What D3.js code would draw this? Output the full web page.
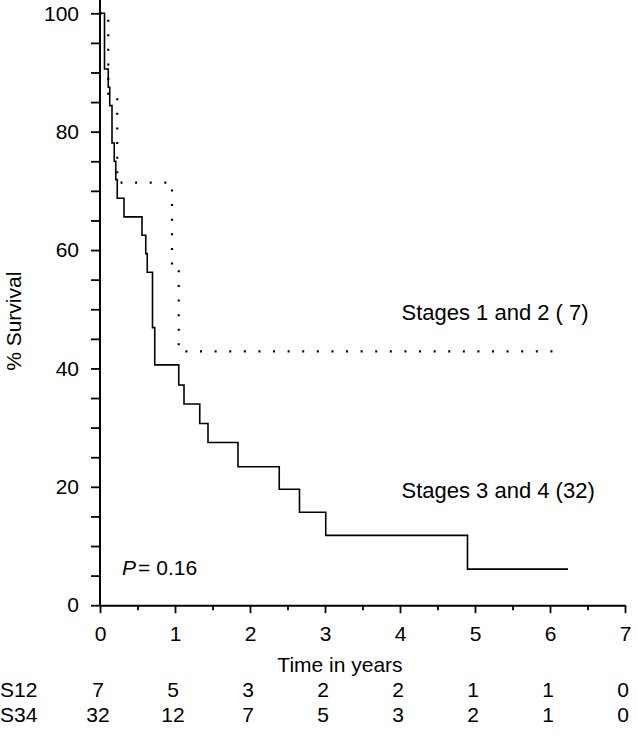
<!DOCTYPE html>
<html>
<head>
<meta charset="utf-8">
<script src="https://cdn.jsdelivr.net/npm/d3@7"></script>
<style>
  html, body { margin: 0; padding: 0; background: #fff; }
  svg { display: block; font-family: "Liberation Sans", Arial, Helvetica, sans-serif; }
</style>
</head>
<body>
<svg id="chart" width="637" height="740"></svg>
<script>
// ---- Data ----
// Stages 3 and 4 (n = 32): step times (years) and survival (%) after each step
const s34Times    = [0, 0.06, 0.11, 0.13, 0.16, 0.19, 0.21, 0.23, 0.32, 0.56, 0.61, 0.63, 0.70, 0.73, 1.05, 1.12, 1.33, 1.44, 1.84, 2.39, 2.66, 3.01, 4.90];
const s34Survival = [100, 90.6, 87.5, 84.4, 78.1, 75.0, 71.9, 68.75, 65.6, 62.5, 59.4, 56.25, 46.9, 40.6, 37.2, 34.0, 30.7, 27.5, 23.4, 19.6, 15.7, 11.8, 6.1];
const s34End = 6.24;

// Stages 1 and 2 (n = 7)
const s12Times    = [0, 0.11, 0.23, 0.96, 1.05];
const s12Survival = [100, 85.7, 71.4, 57.1, 42.9];
const s12End = 6.09;

// Axis ticks
const xMajorTicks = [0, 1, 2, 3, 4, 5, 6, 7];
const xMinorTicks = [0.5, 1.5, 2.5, 3.5, 4.5, 5.5, 6.5];
const yMajorTicks = [0, 20, 40, 60, 80, 100];
const yMinorTicks = [5, 10, 15, 25, 30, 35, 45, 50, 55, 65, 70, 75, 85, 90, 95];

// Numbers at risk
const riskTimes = [0, 1, 2, 3, 4, 5, 6, 7];
const riskS12 = [7, 5, 3, 2, 2, 1, 1, 0];
const riskS34 = [32, 12, 7, 5, 3, 2, 1, 0];
const riskLabels = ["S12", "S34"];

const labelS12 = "Stages 1 and 2 ( 7)";
const labelS34 = "Stages 3 and 4 (32)";
const xTitle = "Time in years";
const yTitle = "% Survival";

// ---- Layout ----
const svg = d3.select("#chart");
const x = d3.scaleLinear().domain([0, 7]).range([100, 625]);
const y = d3.scaleLinear().domain([0, 100]).range([605.2, 13.3]);

function stepPoints(times, surv, end) {
  const pts = [];
  for (let i = 0; i < times.length; i++) {
    if (i > 0) pts.push([times[i], surv[i - 1]]);
    pts.push([times[i], surv[i]]);
  }
  pts.push([end, surv[surv.length - 1]]);
  return pts;
}
const line = d3.line().x(d => x(d[0])).y(d => y(d[1]));

// ---- Axes ----
const axisColor = "#000";
// X axis
const gx = svg.append("g").attr("transform", `translate(0,${y(0)})`);
gx.call(d3.axisBottom(x).tickValues(xMajorTicks).tickSize(8).tickSizeOuter(0).tickPadding(13).tickFormat(d3.format("d")));
gx.select(".domain").attr("stroke-width", 2);
gx.selectAll(".tick line").attr("stroke-width", 1.8);
gx.selectAll(".tick text").attr("font-size", 21).attr("font-family", null).attr("fill", "#000");
const gxm = svg.append("g").attr("transform", `translate(0,${y(0)})`);
gxm.call(d3.axisBottom(x).tickValues(xMinorTicks).tickSize(5).tickFormat(""));
gxm.select(".domain").remove();
gxm.selectAll(".tick line").attr("stroke-width", 1.8);

// Y axis
const gy = svg.append("g").attr("transform", `translate(${x(0)},0)`);
gy.call(d3.axisLeft(y).tickValues(yMajorTicks).tickSize(9).tickSizeOuter(0).tickPadding(12).tickFormat(d3.format("d")));
gy.select(".domain").remove();
gy.selectAll(".tick line").attr("stroke-width", 1.8);
gy.selectAll(".tick text").attr("font-size", 21).attr("font-family", null).attr("fill", "#000");
const gym = svg.append("g").attr("transform", `translate(${x(0)},0)`);
gym.call(d3.axisLeft(y).tickValues(yMinorTicks).tickSize(9).tickFormat(""));
gym.select(".domain").remove();
gym.selectAll(".tick line").attr("stroke-width", 1.8);
// y axis line extends to the top of the frame
svg.append("line")
  .attr("x1", x(0)).attr("x2", x(0))
  .attr("y1", y(0)).attr("y2", 0)
  .attr("stroke", axisColor).attr("stroke-width", 2);

// ---- Curves ----
svg.append("path")
  .datum(stepPoints(s12Times, s12Survival, s12End))
  .attr("d", line)
  .attr("fill", "none")
  .attr("stroke", "#000")
  .attr("stroke-width", 2.2)
  .attr("stroke-dasharray", "2,12.6");

svg.append("path")
  .datum(stepPoints(s34Times, s34Survival, s34End))
  .attr("d", line)
  .attr("fill", "none")
  .attr("stroke", "#000")
  .attr("stroke-width", 1.6);

// ---- Labels ----
svg.append("text").attr("x", 401.5).attr("y", 320)
  .attr("font-size", 22).text(labelS12);
svg.append("text").attr("x", 401.5).attr("y", 498)
  .attr("font-size", 22).text(labelS34);

const p = svg.append("text").attr("x", 122).attr("y", 575).attr("font-size", 21);
p.append("tspan").attr("font-style", "italic").text("P");
p.append("tspan").attr("dx", 2).text("=");
p.append("tspan").attr("dx", 6).text("0.16");

svg.append("text").attr("x", 340).attr("y", 672)
  .attr("text-anchor", "middle").attr("font-size", 21).text(xTitle);

svg.append("text")
  .attr("transform", `translate(21,${y(50) + 12}) rotate(-90)`)
  .attr("text-anchor", "middle").attr("font-size", 21).text(yTitle);

// ---- Numbers at risk ----
const riskRows = [riskS12, riskS34];
const rowY = [697, 722];
riskRows.forEach((row, r) => {
  svg.append("text").attr("x", 0).attr("y", rowY[r]).attr("font-size", 21).text(riskLabels[r]);
  svg.selectAll(null).data(row).enter().append("text")
    .attr("x", (d, i) => x(riskTimes[i]) - 2)
    .attr("y", rowY[r])
    .attr("text-anchor", "middle")
    .attr("font-size", 21)
    .text(d => d);
});
</script>
</body>
</html>
